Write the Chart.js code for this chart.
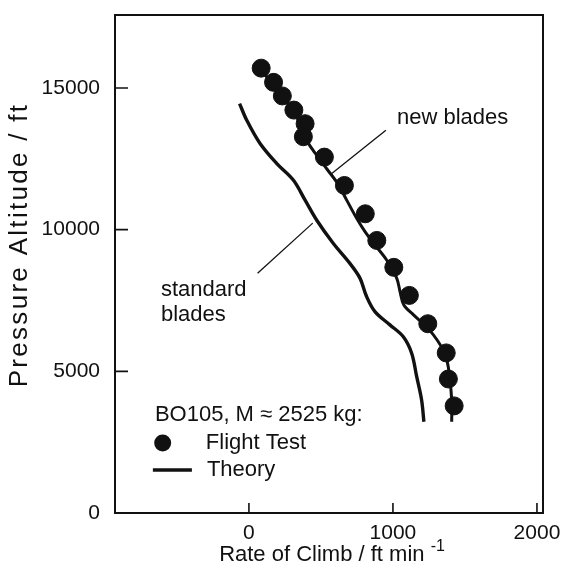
<!DOCTYPE html>
<html>
<head>
<meta charset="utf-8">
<script src="https://cdn.jsdelivr.net/npm/chart.js@4.4.1/dist/chart.umd.min.js"></script>
<style>
  html, body { margin: 0; padding: 0; background: #fff; }
  #wrap { width: 561px; height: 572px; }
</style>
</head>
<body>
<div id="wrap"><canvas id="chart"></canvas></div>
<script>
(function () {
  'use strict';

  // BO105 climb performance, M = 2525 kg
  const flightRoc = [85, 171, 232, 312, 390, 378, 524, 663, 808, 888, 1006, 1114, 1242, 1370, 1385, 1425];
  const flightAlt = [15700, 15200, 14720, 14220, 13740, 13280, 12560, 11560, 10560, 9620, 8670, 7680, 6680, 5650, 4730, 3780];

  // theory, new blades
  const newRoc = [80, 165, 240, 310, 365, 395, 460, 540, 620, 678, 748, 806, 875, 956, 1026, 1050, 1075, 1141, 1250, 1349, 1384, 1408, 1408];
  const newAlt = [15650, 15150, 14650, 14150, 13650, 13200, 12700, 12150, 11600, 11050, 10400, 9930, 9460, 8930, 8290, 7800, 7350, 7000, 6480, 5750, 5160, 3990, 3220];

  // theory, standard blades
  const stdRoc = [-65, -16, 76, 192, 308, 389, 470, 585, 701, 771, 817, 875, 979, 1072, 1130, 1165, 1199, 1215];
  const stdAlt = [14450, 13870, 13050, 12340, 11750, 11050, 10340, 9520, 8810, 8290, 7640, 7110, 6640, 6220, 5640, 4810, 3990, 3220];

  // label leader lines
  const newLeaderRoc = [951, 573];
  const newLeaderAlt = [13505, 11970];
  const stdLeaderRoc = [443, 60];
  const stdLeaderAlt = [10230, 8458];

  const xTicks = [0, 1000, 2000];
  const yTicks = [0, 5000, 10000, 15000];

  const INK = '#111';
  const FONT = "'Liberation Sans', Arial, Helvetica, sans-serif";

  const pts = (xs, ys) => xs.map((v, i) => ({ x: v, y: ys[i] }));

  function label(ctx, text, x, y, size, align) {
    ctx.font = size + 'px ' + FONT;
    ctx.textAlign = align || 'left';
    ctx.textBaseline = 'middle';
    ctx.fillText(text, x, y);
  }

  const decor = {
    id: 'decor',
    afterDatasetsDraw(chart) {
      const { ctx, chartArea: a, scales: { x, y } } = chart;
      ctx.save();
      ctx.strokeStyle = INK;
      ctx.fillStyle = INK;

      // frame
      ctx.lineWidth = 2;
      ctx.strokeRect(a.left, a.top, a.right - a.left, a.bottom - a.top);

      // tick marks point into the plot
      ctx.lineWidth = 1.6;
      ctx.beginPath();
      y.ticks.forEach(t => {
        if (t.value <= y.min) return;
        const py = y.getPixelForValue(t.value);
        ctx.moveTo(a.left, py); ctx.lineTo(a.left + 13, py);
      });
      x.ticks.forEach(t => {
        const px = x.getPixelForValue(t.value);
        ctx.moveTo(px, a.bottom); ctx.lineTo(px, a.bottom - 10);
      });
      ctx.stroke();

      // curve labels
      label(ctx, 'new blades', x.getPixelForValue(1028), y.getPixelForValue(13943), 22);
      label(ctx, 'standard', x.getPixelForValue(-611), y.getPixelForValue(7871), 22);
      label(ctx, 'blades', x.getPixelForValue(-611), y.getPixelForValue(6989), 22);

      // key
      label(ctx, 'BO105, M \u2248 2525 kg:', x.getPixelForValue(-653), y.getPixelForValue(3459), 22);
      ctx.beginPath();
      ctx.arc(x.getPixelForValue(-599), y.getPixelForValue(2471), 8.5, 0, Math.PI * 2);
      ctx.fill();
      label(ctx, 'Flight Test', x.getPixelForValue(-299), y.getPixelForValue(2471), 22);
      ctx.lineWidth = 3.4;
      ctx.beginPath();
      ctx.moveTo(x.getPixelForValue(-667), y.getPixelForValue(1518));
      ctx.lineTo(x.getPixelForValue(-396), y.getPixelForValue(1518));
      ctx.stroke();
      label(ctx, 'Theory', x.getPixelForValue(-292), y.getPixelForValue(1518), 22);

      // x axis title with superscript exponent
      const main = 'Rate of Climb / ft min ';
      const sup = '-1';
      ctx.font = '22px ' + FONT;
      const wMain = ctx.measureText(main).width;
      ctx.font = '16px ' + FONT;
      const wSup = ctx.measureText(sup).width;
      const cx = (a.left + a.right) / 2 + 3;
      const left = cx - (wMain + wSup) / 2;
      label(ctx, main, left, 555, 22);
      label(ctx, sup, left + wMain, 547, 16);

      // y axis title
      ctx.save();
      ctx.translate(20, y.getPixelForValue(9460));
      ctx.rotate(-Math.PI / 2);
      ctx.letterSpacing = '2.3px';
      label(ctx, 'Pressure Altitude / ft', 0, 0, 26, 'center');
      ctx.restore();

      ctx.restore();
    }
  };

  new Chart(document.getElementById('chart'), {
    type: 'scatter',
    data: {
      datasets: [
        { label: 'Theory, standard blades', data: pts(stdRoc, stdAlt), showLine: true, borderColor: INK, borderWidth: 3.4, pointRadius: 0, tension: 0.35 },
        { label: 'Theory, new blades', data: pts(newRoc, newAlt), showLine: true, borderColor: INK, borderWidth: 3, pointRadius: 0, tension: 0.35 },
        { label: 'new blades', data: pts(newLeaderRoc, newLeaderAlt), showLine: true, borderColor: INK, borderWidth: 1.3, pointRadius: 0 },
        { label: 'standard blades', data: pts(stdLeaderRoc, stdLeaderAlt), showLine: true, borderColor: INK, borderWidth: 1.3, pointRadius: 0 },
        { label: 'Flight Test', data: pts(flightRoc, flightAlt), showLine: false, backgroundColor: INK, borderColor: INK, pointRadius: 9, pointHoverRadius: 9 },
      ],
    },
    options: {
      responsive: true,
      maintainAspectRatio: false,
      animation: false,
      devicePixelRatio: 1,
      layout: { padding: { top: 15, right: 18, left: 0, bottom: 0 } },
      plugins: { legend: { display: false }, tooltip: { enabled: false } },
      scales: {
        x: {
          type: 'linear',
          min: -930,
          max: 2042,
          grid: { display: false, drawTicks: false },
          border: { display: false },
          ticks: { color: INK, font: { family: FONT, size: 21 }, padding: 8, callback: v => String(v) },
          afterBuildTicks: s => { s.ticks = xTicks.map(v => ({ value: v })); },
          afterFit: s => { s.height = 59; s.paddingLeft = 0; s.paddingRight = 0; },
        },
        y: {
          type: 'linear',
          min: 0,
          max: 17576,
          grid: { display: false, drawTicks: false },
          border: { display: false },
          ticks: { color: INK, font: { family: FONT, size: 21 }, padding: 15, callback: v => String(v) },
          afterBuildTicks: s => { s.ticks = yTicks.map(v => ({ value: v })); },
          afterFit: s => { s.width = 115; s.paddingTop = 0; s.paddingBottom = 0; },
        },
      },
    },
    plugins: [decor],
  });
})();
</script>
</body>
</html>
